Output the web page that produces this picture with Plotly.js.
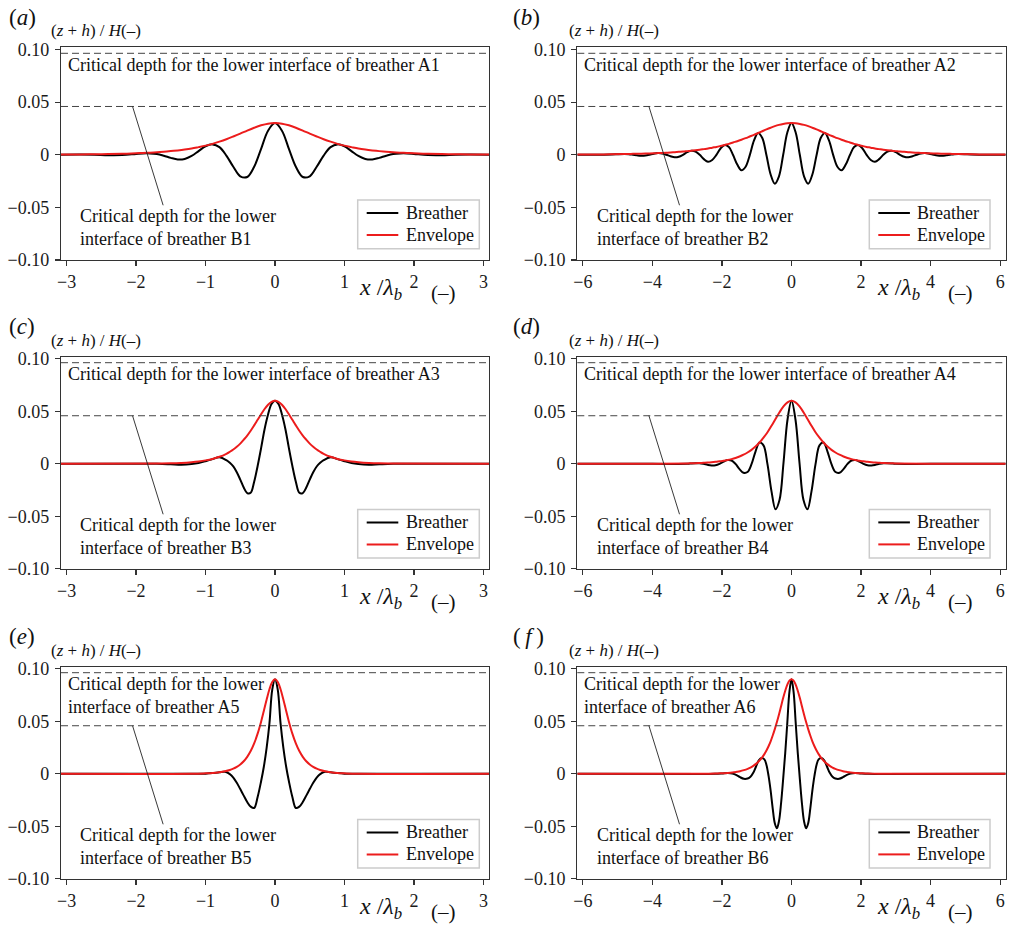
<!DOCTYPE html>
<html>
<head>
<meta charset="utf-8">
<script src="https://cdn.plot.ly/plotly-3.0.1.min.js"></script>
<style>
  html, body { margin: 0; padding: 0; background: #fff; }
  #chart { width: 1011px; height: 925px; }
</style>
</head>
<body>
<div id="chart"></div>
<script>
// ---------- data: surface elevation (z + h)/H against x/λb ----------
const xA = [-3.08,-2.8,-2.6,-2.4,-2.2,-2.0,-1.9,-1.8,-1.7,-1.6,-1.5,-1.4,-1.3,-1.2,-1.1,-1.0,-0.9,-0.8,-0.7,-0.6,-0.5,-0.4,-0.3,-0.2,-0.1,0,0.1,0.2,0.3,0.4,0.5,0.6,0.7,0.8,0.9,1.0,1.1,1.2,1.3,1.4,1.5,1.6,1.7,1.8,1.9,2.0,2.2,2.4,2.6,2.8,3.08];
const breatherA = [0,0.0002,0,-0.0005,-0.0004,0.0007,0.0012,0.0012,0.0006,-0.0010,-0.0030,-0.0045,-0.0040,-0.0012,0.0034,0.0080,0.0098,0.0072,-0.0008,-0.0115,-0.0205,-0.0212,-0.0115,0.0055,0.0228,0.0300,0.0228,0.0055,-0.0115,-0.0212,-0.0205,-0.0115,-0.0008,0.0072,0.0098,0.0080,0.0034,-0.0012,-0.0040,-0.0045,-0.0030,-0.0010,0.0006,0.0012,0.0012,0.0007,-0.0004,-0.0005,0,0.0002,0];
const envelopeA = [0.0002,0.0003,0.0004,0.0006,0.0009,0.0013,0.0016,0.0019,0.0023,0.0028,0.0034,0.0041,0.0049,0.0059,0.0072,0.0086,0.0103,0.0124,0.0147,0.0173,0.0200,0.0229,0.0256,0.0279,0.0295,0.0300,0.0295,0.0279,0.0256,0.0229,0.0200,0.0173,0.0147,0.0124,0.0103,0.0086,0.0072,0.0059,0.0049,0.0041,0.0034,0.0028,0.0023,0.0019,0.0016,0.0013,0.0009,0.0006,0.0004,0.0003,0.0002];

const xB = [-6.16,-5.4,-4.8,-4.68,-4.56,-4.44,-4.32,-4.2,-4.08,-3.96,-3.84,-3.72,-3.6,-3.48,-3.36,-3.24,-3.12,-3.0,-2.88,-2.76,-2.64,-2.52,-2.4,-2.28,-2.16,-2.04,-1.92,-1.8,-1.68,-1.56,-1.44,-1.32,-1.2,-1.08,-0.96,-0.84,-0.72,-0.6,-0.48,-0.36,-0.24,-0.12,0,0.12,0.24,0.36,0.48,0.6,0.72,0.84,0.96,1.08,1.2,1.32,1.44,1.56,1.68,1.8,1.92,2.04,2.16,2.28,2.4,2.52,2.64,2.76,2.88,3.0,3.12,3.24,3.36,3.48,3.6,3.72,3.84,3.96,4.08,4.2,4.32,4.44,4.56,4.68,4.8,5.4,6.16];
const breatherB = [0,0,0.0006,0.0005,0,-0.0006,-0.0010,-0.0008,0,0.0010,0.0015,0.0012,0,-0.0015,-0.0025,-0.0020,-0.0001,0.0024,0.0038,0.0030,0,-0.0042,-0.0067,-0.0050,-0.0002,0.0059,0.0093,0.0073,-0.0003,-0.0094,-0.0148,-0.0114,-0.0004,0.0133,0.0206,0.0158,-0.0005,-0.0188,-0.0275,-0.0205,-0.0003,0.0211,0.0300,0.0211,-0.0003,-0.0205,-0.0275,-0.0188,-0.0005,0.0158,0.0206,0.0133,-0.0004,-0.0114,-0.0148,-0.0094,-0.0003,0.0073,0.0093,0.0059,-0.0002,-0.0050,-0.0067,-0.0042,0,0.0030,0.0038,0.0024,-0.0001,-0.0020,-0.0025,-0.0015,0,0.0012,0.0015,0.0010,0,-0.0008,-0.0010,-0.0006,0,0.0005,0.0006,0,0];
const envelopeB = [0.0002,0.0003,0.0006,0.0007,0.0008,0.0009,0.0010,0.0011,0.0012,0.0013,0.0015,0.0017,0.0019,0.0021,0.0024,0.0027,0.0030,0.0034,0.0038,0.0042,0.0047,0.0053,0.0059,0.0067,0.0074,0.0083,0.0093,0.0103,0.0116,0.0128,0.0142,0.0157,0.0173,0.0189,0.0206,0.0223,0.0240,0.0256,0.0271,0.0283,0.0292,0.0298,0.0300,0.0298,0.0292,0.0283,0.0271,0.0256,0.0240,0.0223,0.0206,0.0189,0.0173,0.0157,0.0142,0.0128,0.0116,0.0103,0.0093,0.0083,0.0074,0.0067,0.0059,0.0053,0.0047,0.0042,0.0038,0.0034,0.0030,0.0027,0.0024,0.0021,0.0019,0.0017,0.0015,0.0013,0.0012,0.0011,0.0010,0.0009,0.0008,0.0007,0.0006,0.0003,0.0002];

const xC = [-3.08,-1.7,-1.5,-1.35,-1.2,-1.1,-1.0,-0.9,-0.8,-0.7,-0.65,-0.6,-0.55,-0.5,-0.45,-0.4,-0.35,-0.3,-0.25,-0.2,-0.15,-0.1,-0.05,0,0.05,0.1,0.15,0.2,0.25,0.3,0.35,0.4,0.45,0.5,0.55,0.6,0.65,0.7,0.8,0.9,1.0,1.1,1.2,1.35,1.5,1.7,3.08];
const breatherC = [0,0,-0.0004,-0.0008,-0.0002,0.0008,0.0025,0.0045,0.0062,0.0035,0.0010,-0.0025,-0.0080,-0.0150,-0.0225,-0.0278,-0.0275,-0.0170,-0.0020,0.0150,0.0330,0.0470,0.0570,0.0600,0.0570,0.0470,0.0330,0.0150,-0.0020,-0.0170,-0.0275,-0.0278,-0.0225,-0.0150,-0.0080,-0.0025,0.0010,0.0035,0.0062,0.0045,0.0025,0.0008,-0.0002,-0.0008,-0.0004,0,0];
const envelopeC = [0,0.0003,0.0005,0.0009,0.0016,0.0023,0.0033,0.0047,0.0067,0.0096,0.0115,0.0137,0.0163,0.0193,0.0230,0.0269,0.0315,0.0366,0.0419,0.0472,0.0522,0.0563,0.0590,0.0600,0.0590,0.0563,0.0522,0.0472,0.0419,0.0366,0.0315,0.0269,0.0230,0.0193,0.0163,0.0137,0.0115,0.0096,0.0067,0.0047,0.0033,0.0023,0.0016,0.0009,0.0005,0.0003,0];

const xD = [-6.16,-4.0,-2.99,-2.875,-2.76,-2.645,-2.53,-2.415,-2.3,-2.185,-2.07,-1.955,-1.84,-1.725,-1.61,-1.495,-1.38,-1.265,-1.15,-1.035,-0.92,-0.805,-0.69,-0.575,-0.46,-0.345,-0.23,-0.115,0,0.115,0.23,0.345,0.46,0.575,0.69,0.805,0.92,1.035,1.15,1.265,1.38,1.495,1.61,1.725,1.84,1.955,2.07,2.185,2.3,2.415,2.53,2.645,2.76,2.875,2.99,4.0,6.16];
const breatherD = [0,0,0,0.0004,0.0006,0.0006,0,-0.0009,-0.0015,-0.0013,0,0.0021,0.0036,0.0032,0,-0.0050,-0.0085,-0.0078,-0.0003,0.0117,0.0203,0.0176,-0.0005,-0.0262,-0.0432,-0.0345,0.0010,0.0420,0.0600,0.0420,0.0010,-0.0345,-0.0432,-0.0262,-0.0005,0.0176,0.0203,0.0117,-0.0003,-0.0078,-0.0085,-0.0050,0,0.0032,0.0036,0.0021,0,-0.0013,-0.0015,-0.0009,0,0.0006,0.0006,0.0004,0,0,0];
const envelopeD = [0,0.0001,0.0004,0.0005,0.0006,0.0008,0.0010,0.0012,0.0015,0.0019,0.0024,0.0029,0.0036,0.0045,0.0056,0.0070,0.0087,0.0108,0.0133,0.0165,0.0203,0.0249,0.0301,0.0362,0.0427,0.0491,0.0547,0.0586,0.0600,0.0586,0.0547,0.0491,0.0427,0.0362,0.0301,0.0249,0.0203,0.0165,0.0133,0.0108,0.0087,0.0070,0.0056,0.0045,0.0036,0.0029,0.0024,0.0019,0.0015,0.0012,0.0010,0.0008,0.0006,0.0005,0.0004,0.0001,0];

const xE = [-3.08,-1.2,-1.0,-0.9,-0.8,-0.72,-0.65,-0.6,-0.55,-0.5,-0.45,-0.4,-0.35,-0.3,-0.25,-0.2,-0.16,-0.12,-0.08,-0.04,0,0.04,0.08,0.12,0.16,0.2,0.25,0.3,0.35,0.4,0.45,0.5,0.55,0.6,0.65,0.72,0.8,0.9,1.0,1.2,3.08];
const breatherE = [0,0,0.0002,0.0007,0.0015,0.0019,-0.0002,-0.0035,-0.0085,-0.0145,-0.0207,-0.0268,-0.0312,-0.0325,-0.0220,-0.0070,0.0070,0.0250,0.0480,0.0800,0.0900,0.0800,0.0480,0.0250,0.0070,-0.0070,-0.0220,-0.0325,-0.0312,-0.0268,-0.0207,-0.0145,-0.0085,-0.0035,-0.0002,0.0019,0.0015,0.0007,0.0002,0,0];
const envelopeE = [0,0.0001,0.0005,0.0008,0.0015,0.0024,0.0036,0.0049,0.0066,0.0089,0.0120,0.0162,0.0217,0.0290,0.0383,0.0497,0.0601,0.0708,0.0805,0.0875,0.0900,0.0875,0.0805,0.0708,0.0601,0.0497,0.0383,0.0290,0.0217,0.0162,0.0120,0.0089,0.0066,0.0049,0.0036,0.0024,0.0015,0.0008,0.0005,0.0001,0];

const xF = [-6.16,-2.5,-2.2,-2.0,-1.83,-1.7,-1.58,-1.48,-1.37,-1.26,-1.18,-1.1,-1.02,-0.94,-0.86,-0.78,-0.72,-0.66,-0.6,-0.54,-0.48,-0.42,-0.36,-0.3,-0.24,-0.18,-0.12,-0.06,0,0.06,0.12,0.18,0.24,0.3,0.36,0.42,0.48,0.54,0.6,0.66,0.72,0.78,0.86,0.94,1.02,1.1,1.18,1.26,1.37,1.48,1.58,1.7,1.83,2.0,2.2,2.5,6.16];
const breatherF = [0,-0.0001,0,0.0004,0.0009,0.0004,-0.0012,-0.0032,-0.0047,-0.0044,-0.0028,0.0010,0.0070,0.0128,0.0151,0.0138,0.0085,-0.0020,-0.0160,-0.0330,-0.0470,-0.0518,-0.0450,-0.0280,-0.0050,0.0200,0.0490,0.0780,0.0900,0.0780,0.0490,0.0200,-0.0050,-0.0280,-0.0450,-0.0518,-0.0470,-0.0330,-0.0160,-0.0020,0.0085,0.0138,0.0151,0.0128,0.0070,0.0010,-0.0028,-0.0044,-0.0047,-0.0032,-0.0012,0.0004,0.0009,0.0004,0,-0.0001,0];
const envelopeF = [0,0.0001,0.0003,0.0006,0.0009,0.0013,0.0019,0.0025,0.0035,0.0048,0.0060,0.0076,0.0095,0.0120,0.0150,0.0188,0.0223,0.0263,0.0310,0.0365,0.0426,0.0493,0.0566,0.0644,0.0721,0.0791,0.0849,0.0887,0.0900,0.0887,0.0849,0.0791,0.0721,0.0644,0.0566,0.0493,0.0426,0.0365,0.0310,0.0263,0.0223,0.0188,0.0150,0.0120,0.0095,0.0076,0.0060,0.0048,0.0035,0.0025,0.0019,0.0013,0.0009,0.0006,0.0003,0.0001,0];

// critical depths (horizontal dashed levels)
const criticalUpper = 0.0963;
const criticalLower = 0.0458;

// ticks
const yTickVals = [-0.1, -0.05, 0, 0.05, 0.1];
const yTickText = ['\u22120.10', '\u22120.05', '0', '0.05', '0.10'];
const xTickValsNarrow = [-3, -2, -1, 0, 1, 2, 3];
const xTickTextNarrow = ['\u22123', '\u22122', '\u22121', '0', '1', '2', '3'];
const xTickValsWide = [-6, -4, -2, 0, 2, 4, 6];
const xTickTextWide = ['\u22126', '\u22124', '\u22122', '0', '2', '4', '6'];

const seriesNames = ['Breather', 'Envelope'];
const panelLetters = ['a', 'b', 'c', 'd', 'e', 'f'];
const upperLabels = [
  'Critical depth for the lower interface of breather A1',
  'Critical depth for the lower interface of breather A2',
  'Critical depth for the lower interface of breather A3',
  'Critical depth for the lower interface of breather A4',
  'Critical depth for the lower<br>interface of breather A5',
  'Critical depth for the lower<br>interface of breather A6'
];
const lowerLabels = [
  'Critical depth for the lower<br>interface of breather B1',
  'Critical depth for the lower<br>interface of breather B2',
  'Critical depth for the lower<br>interface of breather B3',
  'Critical depth for the lower<br>interface of breather B4',
  'Critical depth for the lower<br>interface of breather B5',
  'Critical depth for the lower<br>interface of breather B6'
];

const panelX = [xA, xB, xC, xD, xE, xF];
const panelBreather = [breatherA, breatherB, breatherC, breatherD, breatherE, breatherF];
const panelEnvelope = [envelopeA, envelopeB, envelopeC, envelopeD, envelopeE, envelopeF];

// ---------- page geometry (pixels) ----------
const W = 1011, H = 925;
const FONT = '"Liberation Serif", "Times New Roman", Times, serif';
const colLeft = [61, 577.3], colRight = [489, 1005.7];
const rowTop = [47.3, 356.7, 666.7], rowBottom = [260, 568.9, 878.9];
const rowShift = [0, 309.4, 619.4];
const lineColors = ['#000000', '#ec1c1c'];

const px = v => v / W;
const py = v => 1 - v / H;

const layout = {
  width: W, height: H,
  margin: { l: 0, r: 0, t: 0, b: 0 },
  paper_bgcolor: '#fff', plot_bgcolor: '#fff',
  showlegend: false,
  font: { family: FONT },
  annotations: [], shapes: []
};
const traces = [];

for (let i = 0; i < 6; i++) {
  const col = i % 2, row = Math.floor(i / 2);
  const n = i === 0 ? '' : String(i + 1);
  const xa = 'x' + n, ya = 'y' + n;
  const wide = col === 1;
  const xr = wide ? 6.16 : 3.08;
  const s = wide ? 2 : 1;               // horizontal scale of the right column
  const dy = rowShift[row];

  const axisStyle = {
    showline: true, mirror: true, linecolor: '#333', linewidth: 1.2,
    ticks: 'outside', ticklen: 5, tickwidth: 1.1, tickcolor: '#333',
    showgrid: false, zeroline: false, fixedrange: true,
    tickfont: { family: FONT, size: 18, color: '#1a1a1a' }
  };
  layout['xaxis' + n] = Object.assign({}, axisStyle, {
    domain: [px(colLeft[col]), px(colRight[col])],
    anchor: ya, range: [-xr, xr],
    tickmode: 'array',
    tickvals: wide ? xTickValsWide : xTickValsNarrow,
    ticktext: wide ? xTickTextWide : xTickTextNarrow
  });
  layout['yaxis' + n] = Object.assign({}, axisStyle, {
    domain: [py(rowBottom[row]), py(rowTop[row])],
    anchor: xa, range: [-0.1, 0.102],
    tickmode: 'array', tickvals: yTickVals, ticktext: yTickText,
    ticklabelstandoff: 2
  });

  [panelBreather[i], panelEnvelope[i]].forEach((ys, k) => {
    traces.push({
      x: panelX[i], y: ys, type: 'scatter', mode: 'lines',
      name: seriesNames[k], xaxis: xa, yaxis: ya,
      line: { color: lineColors[k], width: 2, shape: 'spline', smoothing: 1 }
    });
  });

  // dashed critical-depth levels
  [criticalUpper, criticalLower].forEach(v => {
    layout.shapes.push({
      type: 'line', xref: xa + ' domain', yref: ya,
      x0: 0, x1: 1, y0: v, y1: v,
      line: { color: '#444', width: 1, dash: '7px,4px' }
    });
  });
  // pointer from the lower level to its label
  layout.shapes.push({
    type: 'line', xref: xa, yref: ya,
    x0: -2.05 * s, y0: criticalLower, x1: -1.61 * s, y1: -0.048,
    line: { color: '#222', width: 0.9 }
  });

  // key box with line samples
  const boxL = wide ? 869.3 : 357.7, boxR = wide ? 990 : 479.3;
  layout.shapes.push({
    type: 'rect', xref: 'paper', yref: 'paper', layer: 'above',
    x0: px(boxL), x1: px(boxR), y0: py(248.7 + dy), y1: py(200 + dy),
    line: { color: '#cccccc', width: 1.5 }, fillcolor: '#ffffff'
  });
  seriesNames.forEach((nm, k) => {
    const yy = py(213 + 22 * k + dy);
    layout.shapes.push({
      type: 'line', xref: 'paper', yref: 'paper', layer: 'above',
      x0: px(boxL + 9), x1: px(boxL + 40.6), y0: yy, y1: yy,
      line: { color: lineColors[k], width: 2 }
    });
    layout.annotations.push({
      xref: 'paper', yref: 'paper', showarrow: false, xanchor: 'left', yanchor: 'middle',
      x: px(boxL + 46), y: yy, text: nm,
      font: { family: FONT, size: 18, color: '#111' }
    });
  });

  const ann = layout.annotations;
  const base = { xref: 'paper', yref: 'paper', showarrow: false, xanchor: 'left', yanchor: 'middle', align: 'left' };
  // panel letter
  ann.push(Object.assign({}, base, {
    x: px(wide ? 511 : 7), y: py(17 + dy),
    text: i === 5 ? '(\u2009<i>f</i>\u2009)' : '(<i>' + panelLetters[i] + '</i>)',
    font: { family: FONT, size: 23, color: '#111' }
  }));
  // y-axis title
  ann.push(Object.assign({}, base, {
    x: px(wide ? 567 : 49), y: py(31 + dy),
    text: '(<i>z</i> + <i>h</i>) / <i>H</i>(\u2013)',
    font: { family: FONT, size: 17, color: '#111' }
  }));
  // x-axis title
  ann.push(Object.assign({}, base, {
    x: px(wide ? 875 : 357), y: py(289 + dy),
    text: '<i>x</i> /<i>\u03bb</i><sub><i>b</i></sub>',
    font: { family: FONT, size: 24, color: '#111' }
  }));
  ann.push(Object.assign({}, base, {
    x: px(wide ? 946 : 429), y: py(293 + dy),
    text: '(\u2013)',
    font: { family: FONT, size: 21, color: '#111' }
  }));
  // critical depth labels
  ann.push(Object.assign({}, base, {
    x: px(wide ? 582 : 66), y: py((row === 2 ? 695 - 619.4 : 65) + dy),
    text: upperLabels[i],
    font: { family: FONT, size: 18, color: '#111' }
  }));
  ann.push(Object.assign({}, base, {
    x: px(wide ? 595 : 78), y: py(227.5 + dy),
    text: lowerLabels[i],
    font: { family: FONT, size: 18, color: '#111' }
  }));
}

Plotly.newPlot('chart', traces, layout, { staticPlot: true, displayModeBar: false });
</script>
</body>
</html>
